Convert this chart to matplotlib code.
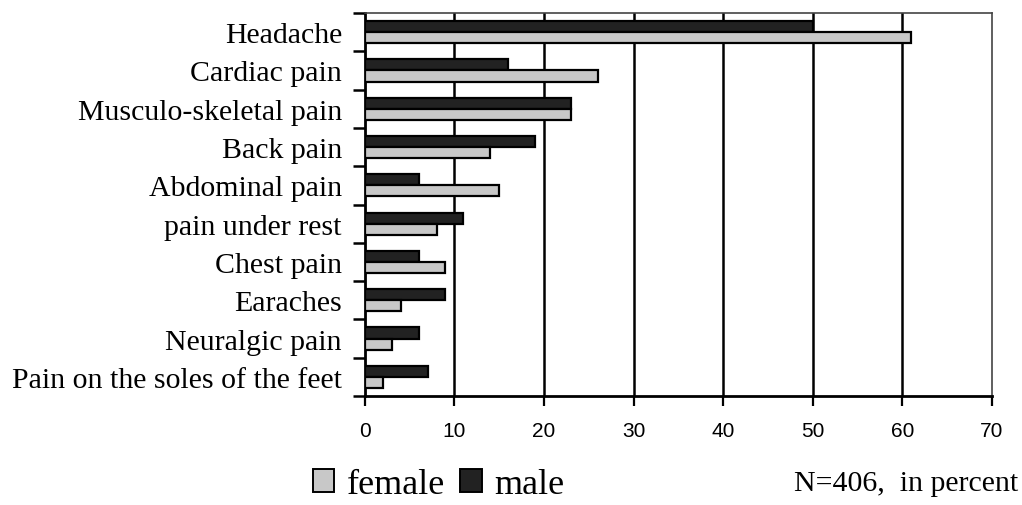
import numpy as np
from matplotlib import pyplot as plt
from matplotlib.patches import Patch

categories = ["Headache", "Cardiac pain", "Musculo-skeletal pain", "Back pain",
              "Abdominal pain", "pain under rest", "Chest pain", "Earaches",
              "Neuralgic pain", "Pain on the soles of the feet"]
male = [50, 16, 23, 19, 6, 11, 6, 9, 6, 7]
female = [61, 26, 23, 14, 15, 8, 9, 4, 3, 2]
xticks = [0, 10, 20, 30, 40, 50, 60, 70]

serif = ["Liberation Serif", "DejaVu Serif"]
sans = ["Liberation Sans", "DejaVu Sans"]

fig = plt.figure(figsize=(10.22, 5.06), dpi=100)
ax = fig.add_axes([0.357, 0.2154, 0.6136, 0.7569])

y = np.arange(len(categories))
h = 0.29
ax.barh(y - h / 2, male, height=h, color="#222222", edgecolor="black", linewidth=1.6, zorder=3)
ax.barh(y + h / 2, female, height=h, color="#c8c8c8", edgecolor="black", linewidth=1.6, zorder=3)

ax.set_xlim(0, 70)
ax.set_ylim(len(categories) - 0.5, -0.5)

# vertical grid
for v in xticks[1:-1]:
    ax.axvline(v, color="black", linewidth=1.8, zorder=1)

ax.set_xticks(xticks)
ax.set_xticklabels([str(t) for t in xticks], family=sans, fontsize=15)
ax.tick_params(axis="x", direction="out", length=7, width=1.6, pad=11)

# category labels as minor ticks, boundary ticks as major
ax.set_yticks(np.arange(-0.5, len(categories) + 0.5, 1))
ax.set_yticklabels([])
ax.set_yticks(y, minor=True)
ax.set_yticklabels(categories, minor=True, family=serif, fontsize=21.5)
ax.tick_params(axis="y", which="major", direction="out", length=9, width=1.8)
ax.tick_params(axis="y", which="minor", length=0, pad=16.5)

for side in ["left", "bottom"]:
    ax.spines[side].set_linewidth(2.0)
for side in ["top", "right"]:
    ax.spines[side].set_linewidth(1.2)
    ax.spines[side].set_color("#444444")

handles = [Patch(facecolor="#c8c8c8", edgecolor="black", linewidth=1.4, label="female"),
           Patch(facecolor="#222222", edgecolor="black", linewidth=1.4, label="male")]
fig.legend(handles=handles, loc="center", bbox_to_anchor=(0.429, 0.04), ncol=2, frameon=False,
           prop={"family": serif, "size": 26}, handlelength=0.6, handleheight=0.6,
           handletextpad=0.34, columnspacing=0.42, borderaxespad=0, borderpad=0)

fig.text(0.996, 0.0296, "N=406,  in percent", ha="right", va="baseline", family=serif, fontsize=21.5)

fig.savefig("out.png", dpi=100)
